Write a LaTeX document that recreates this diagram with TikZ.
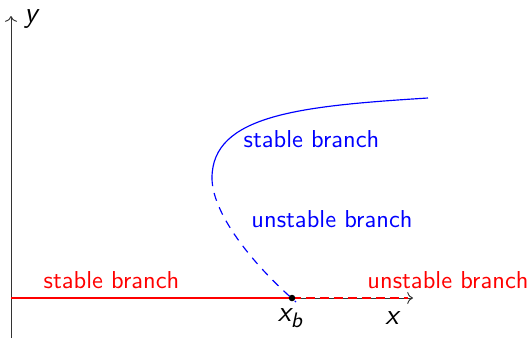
\documentclass[tikz,border=0pt]{standalone}
\usetikzlibrary{arrows.meta}
\begin{document}
\begin{tikzpicture}[x=0.4292pt, y=-0.4292pt, font=\sffamily\fontsize{10.5}{12}\selectfont,
  axis/.style={draw=black!80, thin, ->},
  redline/.style={draw=red, thick},
  blueline/.style={draw=blue, line width=0.5pt},
  redlbl/.style={text=red, inner sep=0pt},
  bluelbl/.style={text=blue, inner sep=0pt},
  axlbl/.style={inner sep=0pt, font=\sffamily\itshape\fontsize{12.5}{14}\selectfont}]
\useasboundingbox (0,0) rectangle (532,338);
% axes
\coordinate (o) at (11,338);
\coordinate (ytip) at (11,16);
\coordinate (x0) at (11,298);
\coordinate (xtip) at (413,298);
\draw[axis] (o) -- (ytip);
\draw[axis] (x0) -- (xtip);
% bifurcation point
\coordinate (xb) at (292,298);
\coordinate (xend) at (408,298);
\coordinate (v) at (212,178);
\coordinate (top) at (428,98);
\coordinate (blow) at (296,302);
% red branches
\draw[redline] (x0) -- (xb);
\draw[redline, dash pattern=on 4pt off 2pt] (xb) -- (xend);
% blue branches
\draw[blueline] (v) .. controls (212,115) and (300,106) .. (top);
\draw[blueline, dash pattern=on 3.5pt off 3pt] (v) .. controls (212,212) and (250,262) .. (blow);
\fill (xb) circle (1.4pt);
% labels
\node[axlbl] (ly) at (31,19) {y};
\node[axlbl] (lx) at (392,318) {x};
\node[axlbl] (lxb) at (290,318) {x\raisebox{-0.45ex}{\small b}};
\node[redlbl] (rs) at (111.5,280) {stable branch};
\node[redlbl] (ru) at (448,280) {unstable branch};
\node[bluelbl] (bs) at (311.5,139) {stable branch};
\node[bluelbl] (bu) at (332,219) {unstable branch};
\end{tikzpicture}
\end{document}
